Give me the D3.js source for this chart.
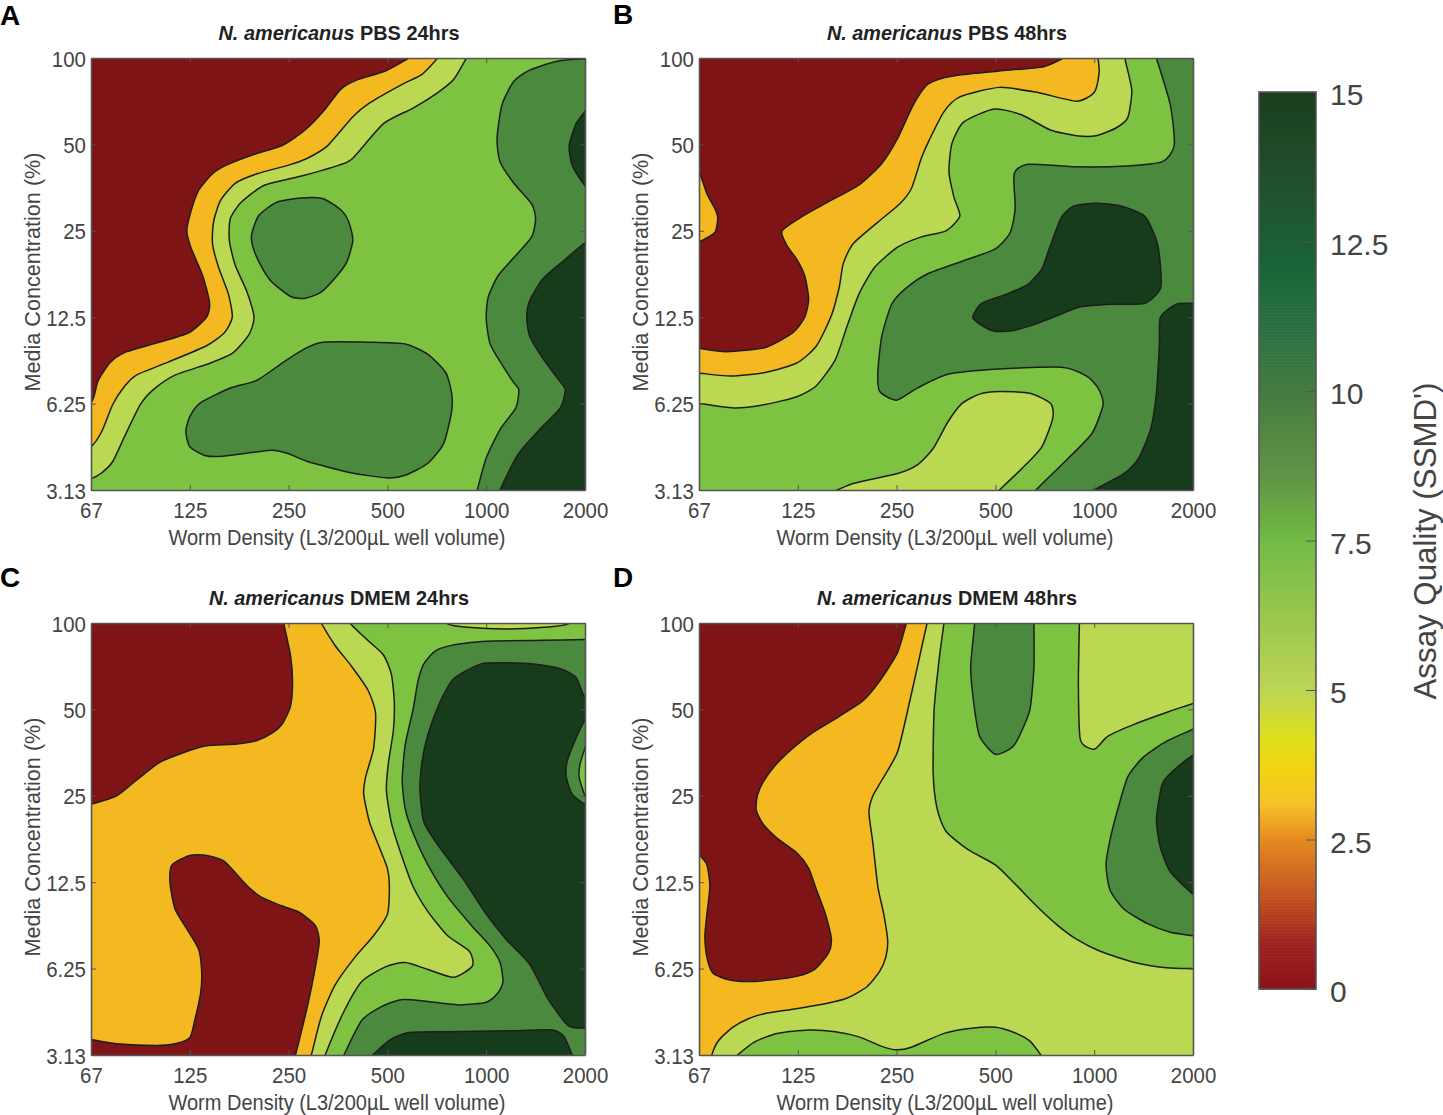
<!DOCTYPE html>
<html><head><meta charset="utf-8">
<script src="https://cdn.jsdelivr.net/npm/d3@7"></script>
<style>html,body{margin:0;padding:0;background:#fff}svg{display:block}text{font-family:"Liberation Sans",Arial,sans-serif}</style>
</head><body><svg id="c" width="1443" height="1115"></svg>
<script>
// Axis categories (contours are read in tick-position units: 0..5 on both axes)
const wormDensity = ["67","125","250","500","1000","2000"];
const mediaConc = ["3.13","6.25","12.5","25","50","100"];
const colorbarTicks = [0,2.5,5,7.5,10,12.5,15];
const colorbarStops = [0,0.8,1.6,2.5,3.1,3.7,4.2,5,6,7.5,8.6,10,11,12,13,14,15];
const colorbarHues = ["#8a1219","#a0231f","#c4561f","#e58a21","#f6c228","#f1d413","#dfe01e","#bcd554","#9fc84c","#72bb45","#5f9446","#457c3f","#2b7040","#1a6638","#1f5730","#204a28","#1a3f1d"];
const levelFill = {red:"#7e1416",orange:"#f4b921",lime:"#bad851",green:"#7ec242",dark:"#4b893e",darkest:"#173c1c"};

// Panel A contours
const aLime=[[0,.13],[.11,.20],[.22,.33],[.34,.62],[.50,.99],[.64,1.17],[.85,1.33],[1.21,1.47],[1.44,1.59],[1.60,1.80],[1.65,2.00],[1.58,2.29],[1.46,2.60],[1.40,2.89],[1.41,3.14],[1.52,3.33],[1.76,3.53],[2.15,3.64],[2.51,3.76],[2.65,3.84],[2.96,4.24],[3.26,4.42],[3.51,4.60],[3.67,4.75],[3.80,5],[3.9,5.2],[-.3,5.3],[-.3,.02]];
const aOrange=[[0,.50],[.11,.68],[.22,.99],[.34,1.20],[.46,1.33],[.78,1.48],[1.17,1.67],[1.35,1.82],[1.43,2.00],[1.39,2.27],[1.29,2.58],[1.23,2.85],[1.24,3.10],[1.31,3.35],[1.46,3.55],[1.68,3.66],[2.00,3.76],[2.19,3.84],[2.39,3.98],[2.65,4.32],[2.82,4.48],[3.14,4.69],[3.35,4.81],[3.51,5],[3.65,5.2],[-.3,5.3],[-.3,.3]];
const aRed=[[0,1.01],[.07,1.26],[.19,1.47],[.34,1.59],[.66,1.70],[.99,1.82],[1.17,2.00],[1.20,2.17],[1.13,2.48],[1.01,2.81],[.97,3.00],[1.01,3.22],[1.09,3.47],[1.23,3.66],[1.37,3.76],[1.64,3.88],[1.94,3.99],[2.17,4.17],[2.35,4.38],[2.53,4.64],[2.70,4.75],[2.98,4.85],[3.22,5],[3.4,5.1],[-.3,5.3],[-.3,.8]];
const aBlobUpper=[[1.63,2.98],[1.70,3.18],[1.88,3.33],[2.13,3.38],[2.35,3.37],[2.53,3.24],[2.61,3.10],[2.65,2.89],[2.59,2.64],[2.49,2.48],[2.33,2.29],[2.17,2.22],[2.02,2.24],[1.82,2.42],[1.70,2.64],[1.63,2.85]];
const aBlobLower=[[.96,.68],[1.00,.85],[1.11,1.01],[1.41,1.18],[1.68,1.27],[1.96,1.49],[2.19,1.65],[2.35,1.71],[2.82,1.71],[3.18,1.69],[3.41,1.57],[3.59,1.36],[3.65,1.12],[3.65,.91],[3.57,.54],[3.41,.31],[3.18,.17],[3.00,.14],[2.63,.20],[2.19,.33],[2.00,.42],[1.82,.46],[1.33,.39],[1.15,.40],[1.00,.50]];
const aRightDark=[[5.3,4.99],[5,4.99],[4.71,4.96],[4.44,4.86],[4.28,4.73],[4.16,4.46],[4.11,4.07],[4.14,3.80],[4.28,3.55],[4.46,3.31],[4.50,3.14],[4.46,2.93],[4.28,2.69],[4.12,2.48],[4.02,2.23],[4.00,1.98],[4.04,1.69],[4.16,1.45],[4.28,1.24],[4.33,1.16],[4.30,.95],[4.14,.70],[4.00,.37],[3.91,0],[3.85,-.3],[5.3,-.3]];
const aTopDarkest=[[5.1,4.5],[5,4.38],[4.91,4.24],[4.84,3.99],[4.87,3.76],[5,3.52],[5.1,3.4],[5.3,3.9]];
const aLowDarkest=[[5.2,3.0],[5,2.86],[4.79,2.66],[4.57,2.44],[4.44,2.19],[4.41,2.00],[4.44,1.78],[4.57,1.53],[4.73,1.28],[4.80,1.16],[4.75,.95],[4.54,.70],[4.32,.41],[4.14,0],[4.05,-.3],[5.3,-.3]];

// Panel B contours
const bOrange=[[-.3,1.36],[0,1.35],[.32,1.32],[.67,1.36],[.99,1.47],[1.19,1.67],[1.34,2.02],[1.42,2.35],[1.46,2.62],[1.56,2.85],[1.81,3.10],[2.03,3.31],[2.15,3.49],[2.25,3.84],[2.33,4.05],[2.48,4.38],[2.64,4.55],[3.04,4.66],[3.43,4.60],[3.82,4.50],[4.00,4.60],[4.05,4.83],[4.04,5],[4.03,5.3],[-.3,5.3]];
const bLime=[[-.3,1.02],[0,1.00],[.36,.95],[.67,.99],[.99,1.08],[1.19,1.21],[1.38,1.51],[1.50,1.90],[1.62,2.27],[1.78,2.58],[2.01,2.81],[2.25,2.93],[2.50,3.00],[2.64,3.17],[2.58,3.39],[2.53,3.68],[2.56,4.01],[2.68,4.26],[2.99,4.41],[3.27,4.34],[3.55,4.17],[3.82,4.10],[4.02,4.10],[4.22,4.19],[4.34,4.31],[4.38,4.63],[4.31,5],[4.28,5.3],[-.3,5.3]];
const bRed=[[-.3,1.7],[0,1.64],[.28,1.60],[.67,1.65],[.95,1.82],[1.07,2.00],[1.11,2.21],[1.07,2.48],[.99,2.67],[.89,2.83],[.84,3.00],[1.05,3.17],[1.30,3.33],[1.62,3.53],[1.85,3.78],[2.01,4.07],[2.17,4.46],[2.31,4.69],[2.48,4.77],[2.68,4.81],[3.04,4.85],[3.49,4.90],[3.69,5],[3.9,5.15],[-.3,5.3]];
const bSmallOrange=[[-.1,3.9],[0,3.69],[.08,3.43],[.16,3.26],[.19,3.15],[.16,2.98],[0,2.87],[-.15,2.8],[-.3,3.3]];
const bDark=[[4.55,5.3],[4.63,5],[4.77,4.46],[4.81,3.99],[4.69,3.80],[4.33,3.75],[3.82,3.74],[3.33,3.77],[3.19,3.66],[3.20,3.26],[3.15,2.98],[3.00,2.79],[2.72,2.67],[2.31,2.50],[2.09,2.33],[1.95,2.15],[1.85,1.78],[1.81,1.36],[1.83,1.14],[2.00,1.04],[2.21,1.18],[2.52,1.34],[3.04,1.40],[3.67,1.42],[3.92,1.32],[4.04,1.18],[4.09,.99],[3.98,.66],[3.74,.37],[3.41,0],[3.2,-.3],[5.3,-.3],[5.3,5.3]];
const bIsland=[[2.77,2.00],[2.86,2.16],[3.12,2.27],[3.33,2.38],[3.47,2.56],[3.55,2.81],[3.67,3.16],[3.80,3.29],[4.02,3.32],[4.26,3.29],[4.51,3.17],[4.63,2.89],[4.67,2.60],[4.67,2.33],[4.51,2.16],[4.18,2.15],[3.86,2.12],[3.63,2.02],[3.35,1.90],[3.15,1.84],[2.98,1.84],[2.84,1.92]];
const bCorner=[[5.3,2.16],[5,2.16],[4.83,2.15],[4.67,2.00],[4.66,1.69],[4.63,1.12],[4.57,.70],[4.45,.37],[4.30,.19],[4.00,0],[3.8,-.15],[5.3,-.3]];
const bLowLime=[[1.2,-.1],[1.40,0],[1.58,.08],[2.01,.19],[2.21,.29],[2.37,.48],[2.52,.79],[2.66,1.00],[2.84,1.11],[3.04,1.14],[3.35,1.12],[3.56,1.00],[3.58,.83],[3.47,.50],[3.27,.25],[3.04,0],[2.9,-.15],[2,-.3]];

// Panel C contours
const cRedTop=[[-.3,2.8],[0,2.90],[.26,3.00],[.46,3.18],[.70,3.39],[1.01,3.53],[1.17,3.58],[1.48,3.60],[1.68,3.64],[1.84,3.73],[1.94,3.84],[2.02,4.04],[2.04,4.33],[2.02,4.62],[1.95,5],[1.9,5.3],[-.3,5.3]];
const cRedLow=[[-.3,.25],[0,.18],[.26,.13],[.66,.11],[.85,.13],[1.00,.20],[1.05,.40],[1.11,.72],[1.12,.97],[1.09,1.22],[.97,1.46],[.85,1.69],[.80,1.99],[.82,2.20],[1.00,2.31],[1.17,2.31],[1.35,2.24],[1.57,1.97],[1.72,1.83],[1.92,1.73],[2.11,1.65],[2.27,1.50],[2.31,1.32],[2.27,1.01],[2.19,.56],[2.07,0],[2.0,-.3],[-.3,-.3]];
const cLime=[[2.2,5.3],[2.33,5],[2.47,4.74],[2.63,4.51],[2.80,4.23],[2.88,3.96],[2.86,3.55],[2.78,3.22],[2.76,3.02],[2.82,2.69],[2.92,2.40],[3.00,2.16],[3.02,1.95],[3.00,1.63],[2.86,1.38],[2.67,1.13],[2.47,.81],[2.33,.44],[2.23,0],[2.15,-.3],[5.3,-.3],[5.3,5.3]];
const cGreen=[[2.45,5.3],[2.62,5],[2.82,4.78],[2.96,4.63],[3.04,4.41],[3.07,4.08],[3.06,3.75],[3.01,3.38],[2.99,3.06],[3.04,2.69],[3.14,2.32],[3.26,1.95],[3.41,1.66],[3.61,1.38],[3.83,1.20],[3.86,1.03],[3.67,.90],[3.41,.99],[3.18,1.07],[2.98,1.02],[2.74,.85],[2.55,.48],[2.37,0],[2.28,-.3],[5.3,-.3],[5.3,5.3]];
const cTopSliver=[[3.5,5.15],[3.61,4.99],[3.81,4.95],[4.20,4.93],[4.59,4.95],[4.83,4.99],[4.95,5.15],[4.2,5.3]];
const cDark=[[5.3,4.82],[5,4.81],[4.59,4.80],[4.00,4.79],[3.69,4.75],[3.49,4.68],[3.37,4.53],[3.31,4.33],[3.26,4.00],[3.18,3.59],[3.15,3.18],[3.18,2.85],[3.26,2.57],[3.41,2.20],[3.61,1.83],[3.85,1.50],[4.04,1.26],[4.14,1.07],[4.17,.85],[4.12,.72],[4.00,.61],[3.73,.58],[3.41,.62],[3.14,.64],[2.94,.56],[2.74,.40],[2.56,0],[2.45,-.3],[5.3,-.3]];
const cDarkest=[[5.2,4.0],[5,4.14],[4.91,4.37],[4.75,4.47],[4.52,4.52],[4.20,4.54],[3.96,4.53],[3.77,4.43],[3.65,4.33],[3.53,4.08],[3.41,3.71],[3.35,3.39],[3.33,3.06],[3.37,2.69],[3.53,2.40],[3.77,2.03],[4.00,1.63],[4.20,1.34],[4.44,1.05],[4.63,.64],[4.83,.34],[5,.31],[5.3,.3],[5.3,2]];
const cEdgeDark=[[5.1,4.05],[5,3.88],[4.91,3.67],[4.82,3.40],[4.81,3.22],[4.87,3.02],[5,2.90],[5.15,2.8],[5.3,3.4]];
const cEdgeGreen=[[5.05,3.7],[5,3.55],[4.95,3.37],[4.94,3.22],[5,3.00],[5.08,2.85],[5.2,3.3]];
const cLowDarkest=[[2.75,-.1],[2.85,0],[3.02,.17],[3.22,.26],[3.61,.27],[4.20,.28],[4.67,.29],[4.79,.21],[4.87,0],[4.92,-.15],[3.8,-.3]];

// Panel D contours
const dOrange=[[2.4,5.3],[2.31,5],[2.21,4.49],[2.13,4.08],[2.01,3.51],[1.85,3.18],[1.76,3.00],[1.72,2.81],[1.76,2.45],[1.81,1.95],[1.87,1.63],[1.91,1.32],[1.89,1.13],[1.83,.97],[1.70,.79],[1.50,.66],[1.30,.60],[.95,.53],[.67,.48],[.50,.42],[.34,.32],[.20,.17],[.13,0],[.08,-.3],[-.3,-.3],[-.3,5.3]];
const dRed=[[2.2,5.3],[2.10,5],[2.01,4.66],[1.83,4.33],[1.66,4.10],[1.42,3.92],[1.15,3.73],[.95,3.55],[.77,3.35],[.65,3.16],[.59,3.00],[.58,2.83],[.65,2.67],[.79,2.51],[.99,2.34],[1.11,2.16],[1.19,1.91],[1.28,1.63],[1.34,1.34],[1.31,1.18],[1.17,.99],[.99,.91],[.75,.87],[.48,.85],[.30,.87],[.14,.95],[.08,1.13],[.06,1.38],[.08,1.63],[.11,1.95],[.08,2.20],[0,2.32],[-.1,2.45],[-.3,3.6],[-.3,5.3]];
const dGreen=[[2.52,5.3],[2.48,5],[2.43,4.57],[2.38,4.00],[2.37,3.26],[2.41,2.85],[2.50,2.59],[2.72,2.38],[3.00,2.20],[3.19,1.99],[3.43,1.71],[3.63,1.50],[3.82,1.34],[4.06,1.20],[4.41,1.07],[4.73,1.01],[5,1.00],[5.3,1.0],[5.3,5.3]];
const dLimeCorner=[[3.85,5.3],[3.85,5],[3.84,4.29],[3.86,3.65],[4.00,3.54],[4.14,3.69],[4.41,3.83],[4.77,3.98],[5,4.07],[5.3,4.2],[5.3,5.3]];
const dGreenLow=[[.25,-.15],[.39,0],[.56,.15],[.79,.25],[1.11,.29],[1.38,.27],[1.62,.21],[1.85,.10],[2.00,.06],[2.15,.09],[2.48,.25],[2.76,.31],[3.00,.32],[3.19,.26],[3.35,.16],[3.46,0],[3.55,-.15],[2,-.3]];
const dDarkTop=[[2.8,5.3],[2.79,5],[2.75,4.49],[2.78,4.08],[2.84,3.69],[3.00,3.48],[3.17,3.56],[3.25,3.71],[3.35,4.00],[3.39,4.49],[3.39,5],[3.39,5.3]];
const dDarkRight=[[5.2,3.88],[5,3.77],[4.73,3.63],[4.50,3.45],[4.34,3.22],[4.24,2.85],[4.16,2.49],[4.12,2.20],[4.16,1.91],[4.30,1.69],[4.54,1.52],[4.77,1.42],[5,1.38],[5.3,1.33],[5.3,2.6]];
const dDarkestRight=[[5.2,3.6],[5,3.47],[4.81,3.30],[4.69,3.14],[4.63,2.73],[4.67,2.40],[4.77,2.12],[5,1.86],[5.2,1.7],[5.3,2.6]];

const panels=[
 {letter:"A",letterX:0,letterY:25,cond:" PBS 24hrs",titleLen:241,left:91,top:58,base:"green",layers:[["lime",aLime],["orange",aOrange],["red",aRed],["dark",aBlobUpper],["dark",aBlobLower],["dark",aRightDark],["darkest",aTopDarkest],["darkest",aLowDarkest]]},
 {letter:"B",letterX:613,letterY:24,cond:" PBS 48hrs",titleLen:240,left:699,top:58,base:"green",layers:[["lime",bLime],["orange",bOrange],["red",bRed],["orange",bSmallOrange],["dark",bDark],["darkest",bIsland],["darkest",bCorner],["lime",bLowLime]]},
 {letter:"C",letterX:0,letterY:587,cond:" DMEM 24hrs",titleLen:260,left:91,top:623,base:"orange",layers:[["red",cRedTop],["red",cRedLow],["lime",cLime],["green",cGreen],["lime",cTopSliver],["dark",cDark],["darkest",cDarkest],["dark",cEdgeDark],["green",cEdgeGreen],["darkest",cLowDarkest]]},
 {letter:"D",letterX:613,letterY:587,cond:" DMEM 48hrs",titleLen:260,left:699,top:623,base:"lime",layers:[["orange",dOrange],["red",dRed],["green",dGreen],["lime",dLimeCorner],["green",dGreenLow],["dark",dDarkTop],["dark",dDarkRight],["darkest",dDarkestRight]]}
];

const svg=d3.select("#c");
const W=494,H=432,ink="#444";
const positions=d3.range(6);
const line=d3.line().curve(d3.curveCardinalClosed.tension(0.35));
const defs=svg.append("defs");

panels.forEach((p,i)=>{
  const x=d3.scaleLinear().domain([0,5]).range([p.left,p.left+W]);
  const y=d3.scaleLinear().domain([0,5]).range([p.top+H,p.top]);
  defs.append("clipPath").attr("id","clip"+i).append("rect").attr("x",p.left).attr("y",p.top).attr("width",W).attr("height",H);
  const g=svg.append("g").attr("clip-path",`url(#clip${i})`);
  g.append("rect").attr("x",p.left).attr("y",p.top).attr("width",W).attr("height",H).attr("fill",levelFill[p.base]);
  g.selectAll("path").data(p.layers).join("path")
    .attr("d",d=>line(d[1].map(q=>[x(q[0]),y(q[1])])))
    .attr("fill",d=>levelFill[d[0]])
    .attr("stroke","#1d1d1b").attr("stroke-width",1.5).attr("stroke-linejoin","round");

  const axes=[
    [d3.axisBottom(x).tickFormat((d,k)=>wormDensity[k]),0,p.top+H,12],
    [d3.axisLeft(y).tickFormat((d,k)=>mediaConc[k]),p.left,0,5],
    [d3.axisTop(x).tickFormat(""),0,p.top,5],
    [d3.axisRight(y).tickFormat(""),p.left+W,0,5]
  ];
  axes.forEach(([ax,tx,ty,pad],n)=>{
    const a=svg.append("g").attr("transform",`translate(${tx},${ty})`)
      .call(ax.tickValues(positions).tickSizeInner(-5).tickSizeOuter(0).tickPadding(pad));
    a.select(".domain").attr("stroke","#555").attr("stroke-width",1.6);
    a.selectAll(".tick line").attr("stroke","#555").attr("stroke-width",1);
    a.selectAll("text").attr("fill",ink).style("font-size","22px").style("font-family",'"Liberation Sans",Arial,sans-serif');
    if(n===1) a.selectAll("text").attr("dy","0.37em");
    if(n<2) a.selectAll("text").each(function(){
      this.setAttribute("textLength",this.getComputedTextLength()*0.93);
      this.setAttribute("lengthAdjust","spacingAndGlyphs");
    });
  });
  svg.append("text").attr("x",p.letterX).attr("y",p.letterY).attr("font-size",28).attr("font-weight","bold").attr("fill","#000").text(p.letter);
  const t=svg.append("text").attr("x",p.left+W/2+1).attr("y",p.top-18).attr("text-anchor","middle").attr("font-size",21).attr("font-weight","bold").attr("fill","#222")
    .attr("textLength",p.titleLen).attr("lengthAdjust","spacingAndGlyphs");
  t.append("tspan").attr("font-style","italic").text("N. americanus");
  t.append("tspan").text(p.cond);
  svg.append("text").attr("x",p.left+W/2-1).attr("y",p.top+H+55).attr("text-anchor","middle").attr("font-size",22.5).attr("fill",ink)
    .attr("textLength",337).attr("lengthAdjust","spacingAndGlyphs").text("Worm Density (L3/200µL well volume)");
  svg.append("text").attr("transform",`translate(${p.left-51},${p.top+214}) rotate(-90)`).attr("text-anchor","middle").attr("font-size",22.5).attr("fill",ink)
    .attr("textLength",239).attr("lengthAdjust","spacingAndGlyphs").text("Media Concentration (%)");
});

// Colour bar
const cbY=d3.scaleLinear().domain([0,15]).range([989,92]);
const cbColor=d3.scaleLinear().domain(colorbarStops).range(colorbarHues).interpolate(d3.interpolateRgb);
const cb=svg.append("g");
cb.selectAll("rect").data(d3.range(0,15,0.05)).join("rect")
  .attr("x",1259).attr("width",57).attr("y",d=>cbY(d+0.05)).attr("height",d=>cbY(d)-cbY(d+0.05)+0.6)
  .attr("fill",d=>cbColor(d+0.025));
cb.append("rect").attr("x",1259).attr("y",92).attr("width",57).attr("height",897).attr("fill","none").attr("stroke","#555").attr("stroke-width",1.6);
const cbAxis=svg.append("g").attr("transform","translate(1316,0)")
  .call(d3.axisRight(cbY).tickValues(colorbarTicks).tickFormat(d3.format("~g")).tickSizeInner(-10).tickSizeOuter(0).tickPadding(14));
cbAxis.select(".domain").remove();
cbAxis.selectAll(".tick line").attr("stroke","#555").attr("stroke-width",1);
cbAxis.selectAll("text").attr("fill",ink).attr("dy","0.42em").style("font-size","30px").style("font-family",'"Liberation Sans",Arial,sans-serif');
svg.append("text").attr("transform","translate(1436,541) rotate(-90)").attr("text-anchor","middle").attr("font-size",32).attr("fill",ink)
  .attr("textLength",317).attr("lengthAdjust","spacingAndGlyphs").text("Assay Quality (SSMD')");
</script></body></html>
